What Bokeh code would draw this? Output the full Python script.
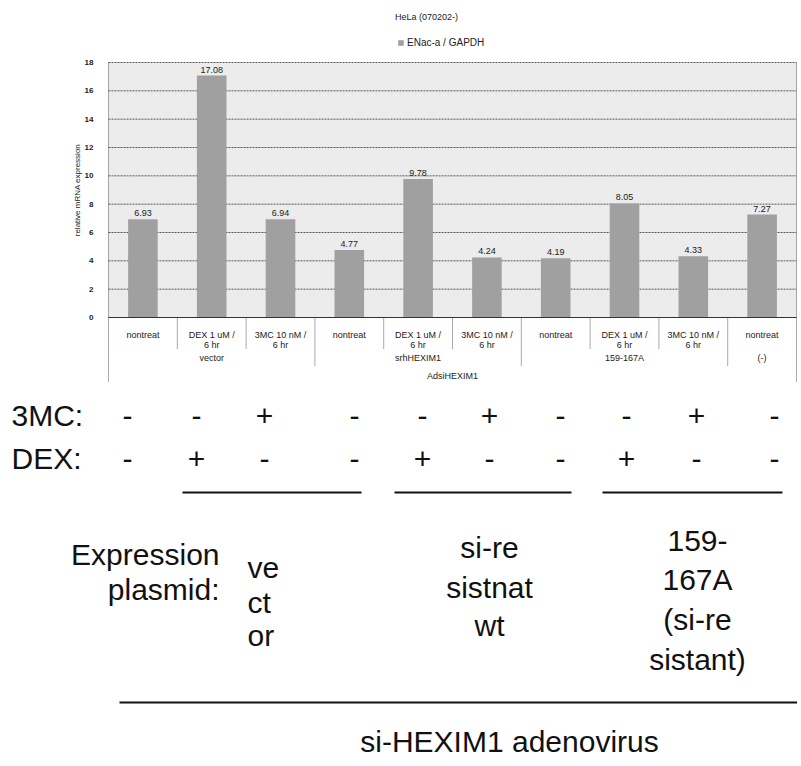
from bokeh.plotting import figure
from bokeh.models import (Range1d, FixedTicker, BoxAnnotation, Legend, LegendItem,
                          ColumnDataSource, LinearAxis)
from bokeh.embed import file_html
from bokeh.resources import INLINE
from bokeh.core.properties import value

# ---------------- data ----------------
title_text = "HeLa (070202-)"
series_name = "ENac-a / GAPDH"
y_axis_title = "relative mRNA expression"
outer_group = "AdsiHEXIM1"
groups = ["vector", "vector", "vector",
          "srhHEXIM1", "srhHEXIM1", "srhHEXIM1",
          "159-167A", "159-167A", "159-167A",
          "(-)"]
conditions = ["nontreat", "DEX 1 uM /\n6 hr", "3MC 10 nM /\n6 hr",
              "nontreat", "DEX 1 uM /\n6 hr", "3MC 10 nM /\n6 hr",
              "nontreat", "DEX 1 uM /\n6 hr", "3MC 10 nM /\n6 hr",
              "nontreat"]
values = [6.93, 17.08, 6.94, 4.77, 9.78, 4.24, 4.19, 8.05, 4.33, 7.27]
y_ticks = [0, 2, 4, 6, 8, 10, 12, 14, 16, 18]

mc3_signs = ["-", "-", "+", "-", "-", "+", "-", "-", "+", "-"]
dex_signs = ["-", "+", "-", "-", "+", "-", "-", "+", "-", "-"]
plasmid_title = ["Expression", "plasmid:"]
plasmid_vector = ["ve", "ct", "or"]
plasmid_wt = ["si-re", "sistnat", "wt"]
plasmid_mut = ["159-", "167A", "(si-re", "sistant)"]
adenovirus_label = "si-HEXIM1 adenovirus"

# ---------------- layout (page pixels -> chart units) ----------------
FONT = "Liberation Sans"
ORIGIN = 1                      # observed page position of the canvas corner
W, H = 797, 757
CAT_LEFT, CAT_W = 109, 68.8     # page x of first category edge, category width
ZERO_Y, UNIT = 318, 255 / 18    # page y of value 0, pixels per value unit
n = len(values)

def dx(px):
    return (px - CAT_LEFT) / CAT_W - 0.5

def dy(py):
    return (ZERO_Y - py) / UNIT

p = figure(width=W, height=H, output_backend="svg", toolbar_location=None,
           x_range=Range1d(dx(ORIGIN), dx(ORIGIN + W)),
           y_range=Range1d(dy(ORIGIN + H), dy(ORIGIN)),
           x_axis_location=None, y_axis_location=None, min_border=0)
p.grid.visible = False
p.outline_line_color = None
p.background_fill_color = "white"
p.border_fill_color = "white"

x_lo, x_hi = -0.5, n - 0.5
p.add_layout(BoxAnnotation(left=x_lo, right=x_hi, bottom=0, top=y_ticks[-1],
                           fill_color="#ececec", fill_alpha=1, line_color=None,
                           level="underlay"))

# grid lines (one per y tick, across the category span)
p.segment(x0=[x_lo] * len(y_ticks), x1=[x_hi] * len(y_ticks), y0=y_ticks, y1=y_ticks,
          line_color="#555555", line_width=1, line_dash="2 1")

xs = list(range(n))
src = ColumnDataSource(dict(x=xs, top=values, label=[f"{v:.2f}" for v in values]))
bars = p.vbar(x="x", top="top", width=0.43, source=src,
              fill_color="#a0a0a0", line_color=None)
p.text(x="x", y="top", text="label", source=src, text_align="center",
       text_baseline="bottom", y_offset=-3, text_font=value(FONT),
       text_font_size="9px", text_color="#222222")

# axes drawn at fixed locations inside the canvas
yax = LinearAxis(fixed_location=x_lo, bounds=(0, y_ticks[-1]),
                 ticker=FixedTicker(ticks=y_ticks), axis_label=y_axis_title)
yax.axis_line_color = "#555555"
yax.axis_line_dash = "1 1"
yax.major_tick_line_color = None
yax.minor_tick_line_color = None
yax.major_label_text_font = FONT
yax.major_label_text_font_size = "8px"
yax.major_label_text_font_style = "bold"
yax.major_label_text_color = "#222222"
yax.major_label_standoff = 9
yax.axis_label_text_font = FONT
yax.axis_label_text_font_size = "8px"
yax.axis_label_text_font_style = "normal"
yax.axis_label_text_color = "#222222"
yax.axis_label_standoff = 0
p.add_layout(yax, "left")

xax = LinearAxis(fixed_location=0, bounds=(x_lo, x_hi), ticker=FixedTicker(ticks=xs),
                 major_label_overrides={i: c for i, c in enumerate(conditions)})
xax.axis_line_color = "#333333"
xax.major_tick_line_color = None
xax.minor_tick_line_color = None
xax.major_label_text_font = FONT
xax.major_label_text_font_size = "9px"
xax.major_label_text_line_height = 1.0
xax.major_label_text_color = "#222222"
xax.major_label_standoff = 6
p.add_layout(xax, "below")

# label-table rows: sub-groups and outer group
ROW1_BOTTOM, ROW2_BOTTOM, TABLE_BOTTOM = dy(349), dy(366), dy(382)
grp_names, grp_centers = [], []
for g in dict.fromkeys(groups):
    idx = [i for i, gg in enumerate(groups) if gg == g]
    grp_names.append(g)
    grp_centers.append(sum(idx) / len(idx))
small = dict(text_font=value(FONT), text_font_size="9px", text_color="#222222",
             text_align="center", text_baseline="middle")
p.text(x=grp_centers, y=[dy(358)] * len(grp_names), text=grp_names, **small)
p.text(x=[(x_lo + x_hi) / 2], y=[dy(376)], text=[outer_group], **small)

# table separators (and right border of the plot area)
sx, sy0, sy1 = [], [], []
for i in range(n + 1):
    if i == 0 or i == n:
        bottom = TABLE_BOTTOM
    elif groups[i] != groups[i - 1]:
        bottom = ROW2_BOTTOM
    else:
        bottom = ROW1_BOTTOM
    sx.append(i - 0.5)
    sy0.append(bottom)
    sy1.append(y_ticks[-1] if i == n else 0)
p.segment(x0=sx, y0=sy0, x1=sx, y1=sy1, line_color="#555555",
          line_width=1, line_dash="1 1")

# title and legend
p.text(x=[dx(427)], y=[dy(17)], text=[title_text], **small)
legend = Legend(items=[LegendItem(label=series_name, renderers=[bars])],
                location=(398 - ORIGIN, ORIGIN + H - 49), orientation="horizontal",
                label_text_font=FONT, label_text_font_size="10px",
                label_text_color="#222222", glyph_width=7, glyph_height=7,
                label_height=10, label_standoff=3, padding=2, margin=0,
                border_line_color=None, background_fill_alpha=0)
p.add_layout(legend)

# ---------------- lower annotation block ----------------
BIG = dict(text_font=value(FONT), text_font_size="30px", text_color="#111111",
           text_baseline="middle")
sign_px = [128, 197, 265, 355, 423, 490, 561, 627, 697, 775]

def big(xpx, ypx, t, align):
    p.text(x=[dx(v) for v in xpx], y=[dy(v) for v in ypx], text=t,
           text_align=align, **BIG)

big([12], [416], ["3MC:"], "left")
big([12], [459], ["DEX:"], "left")
big(sign_px, [416] * n, mc3_signs, "center")
big(sign_px, [459] * n, dex_signs, "center")

p.segment(x0=[dx(183), dx(395), dx(603)], x1=[dx(362), dx(572), dx(783)],
          y0=[dy(493)] * 3, y1=[dy(493)] * 3, line_color="#111111", line_width=2)

big([220] * 2, [555, 590], plasmid_title, "right")
big([248] * 3, [568, 603, 636], plasmid_vector, "left")
big([490] * 3, [548, 588, 626], plasmid_wt, "center")
big([698] * 4, [541, 580, 620, 660], plasmid_mut, "center")

p.segment(x0=[dx(120)], x1=[dx(800)], y0=[dy(703)], y1=[dy(703)],
          line_color="#111111", line_width=2)
big([510], [742], [adenovirus_label], "center")

open("out.html", "w").write(file_html(p, INLINE))
